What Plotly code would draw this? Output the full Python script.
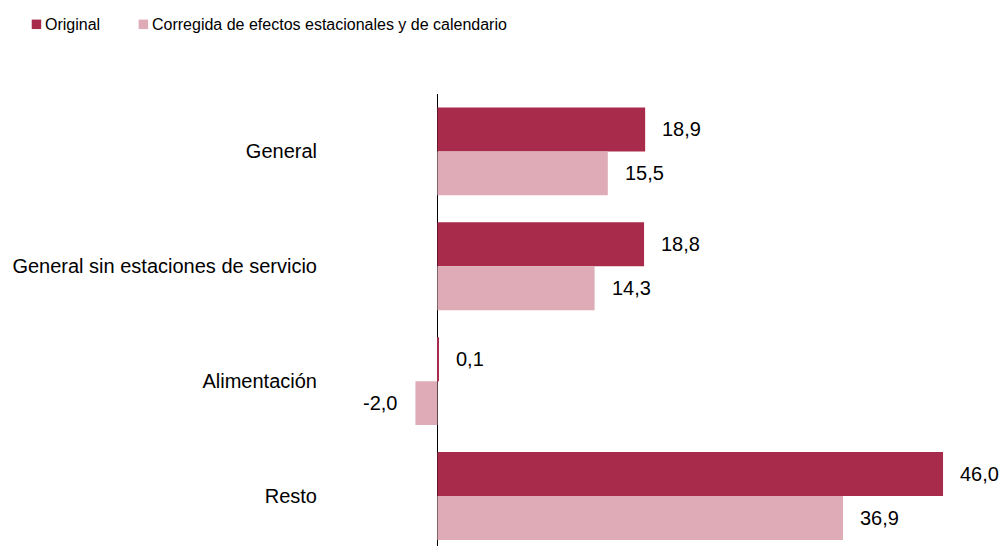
import plotly.graph_objects as go

categories = ["General", "General sin estaciones de servicio", "Alimentación", "Resto"]
original = [18.9, 18.8, 0.1, 46.0]
corregida = [15.5, 14.3, -2.0, 36.9]
series_names = ["Original", "Corregida de efectos estacionales y de calendario"]

DARK = "#A92B4B"
LIGHT = "#DEABB6"
FONT = "Liberation Sans, Arial, sans-serif"

W, H = 1000, 546
ML, MR, MT, MB = 321.5, 2, 93.5, 0
PW, PH = W - ML - MR, H - MT - MB

def px_x(p):
    return (p - ML) / PW

def px_y(p):
    return (H - MB - p) / PH

def fmt(v):
    return f"{v:.1f}".replace(".", ",")

fig = go.Figure()
fig.add_trace(go.Bar(y=categories, x=original, orientation="h", name=series_names[0],
                     marker=dict(color=DARK, line=dict(width=0)), showlegend=False))
fig.add_trace(go.Bar(y=categories, x=corregida, orientation="h", name=series_names[1],
                     marker=dict(color=LIGHT, line=dict(width=0)), showlegend=False))

annotations = []
for vals, ysh in ((original, 22), (corregida, -22)):
    for c, v in zip(categories, vals):
        annotations.append(dict(
            x=v, y=c, xref="x", yref="y", text=fmt(v), showarrow=False,
            xanchor="left" if v >= 0 else "right",
            xshift=15 if v >= 0 else -16, yshift=ysh,
            font=dict(family=FONT, size=20, color="#000000")))

# custom legend (squares + text)
shapes = []
legend_items = [(series_names[0], DARK, 31, 42), (series_names[1], LIGHT, 138, 149)]
for name, col, sx, tx in legend_items:
    shapes.append(dict(type="rect", xref="paper", yref="paper",
                       x0=px_x(sx), x1=px_x(sx + 9.5), y0=px_y(28.5), y1=px_y(19),
                       fillcolor=col, line=dict(width=0)))
    annotations.append(dict(x=px_x(tx), y=px_y(24), xref="paper", yref="paper",
                            text=name, showarrow=False, xanchor="left", yanchor="middle",
                            xshift=0, font=dict(family=FONT, size=16, color="#000000")))

fig.update_layout(
    width=W, height=H,
    margin=dict(l=ML, r=MR, t=MT, b=MB, autoexpand=False),
    paper_bgcolor="white", plot_bgcolor="white",
    barmode="group", bargap=0.235, bargroupgap=0,
    font=dict(family=FONT, size=20, color="#000000"),
    showlegend=False,
    annotations=annotations,
    shapes=shapes,
)
fig.update_xaxes(range=[-10.5, 51], showgrid=False, showticklabels=False, ticks="",
                 zeroline=True, zerolinecolor="#000000", zerolinewidth=1, showline=False,
                 fixedrange=True)
fig.update_yaxes(range=[3.435, -0.5], showgrid=False, ticks="", showline=False,
                 automargin=False, fixedrange=True, ticklabelstandoff=4)

fig.write_html("out.html", config={"displayModeBar": False},
               post_script="document.body.style.margin='0';document.body.style.overflow='hidden';")
